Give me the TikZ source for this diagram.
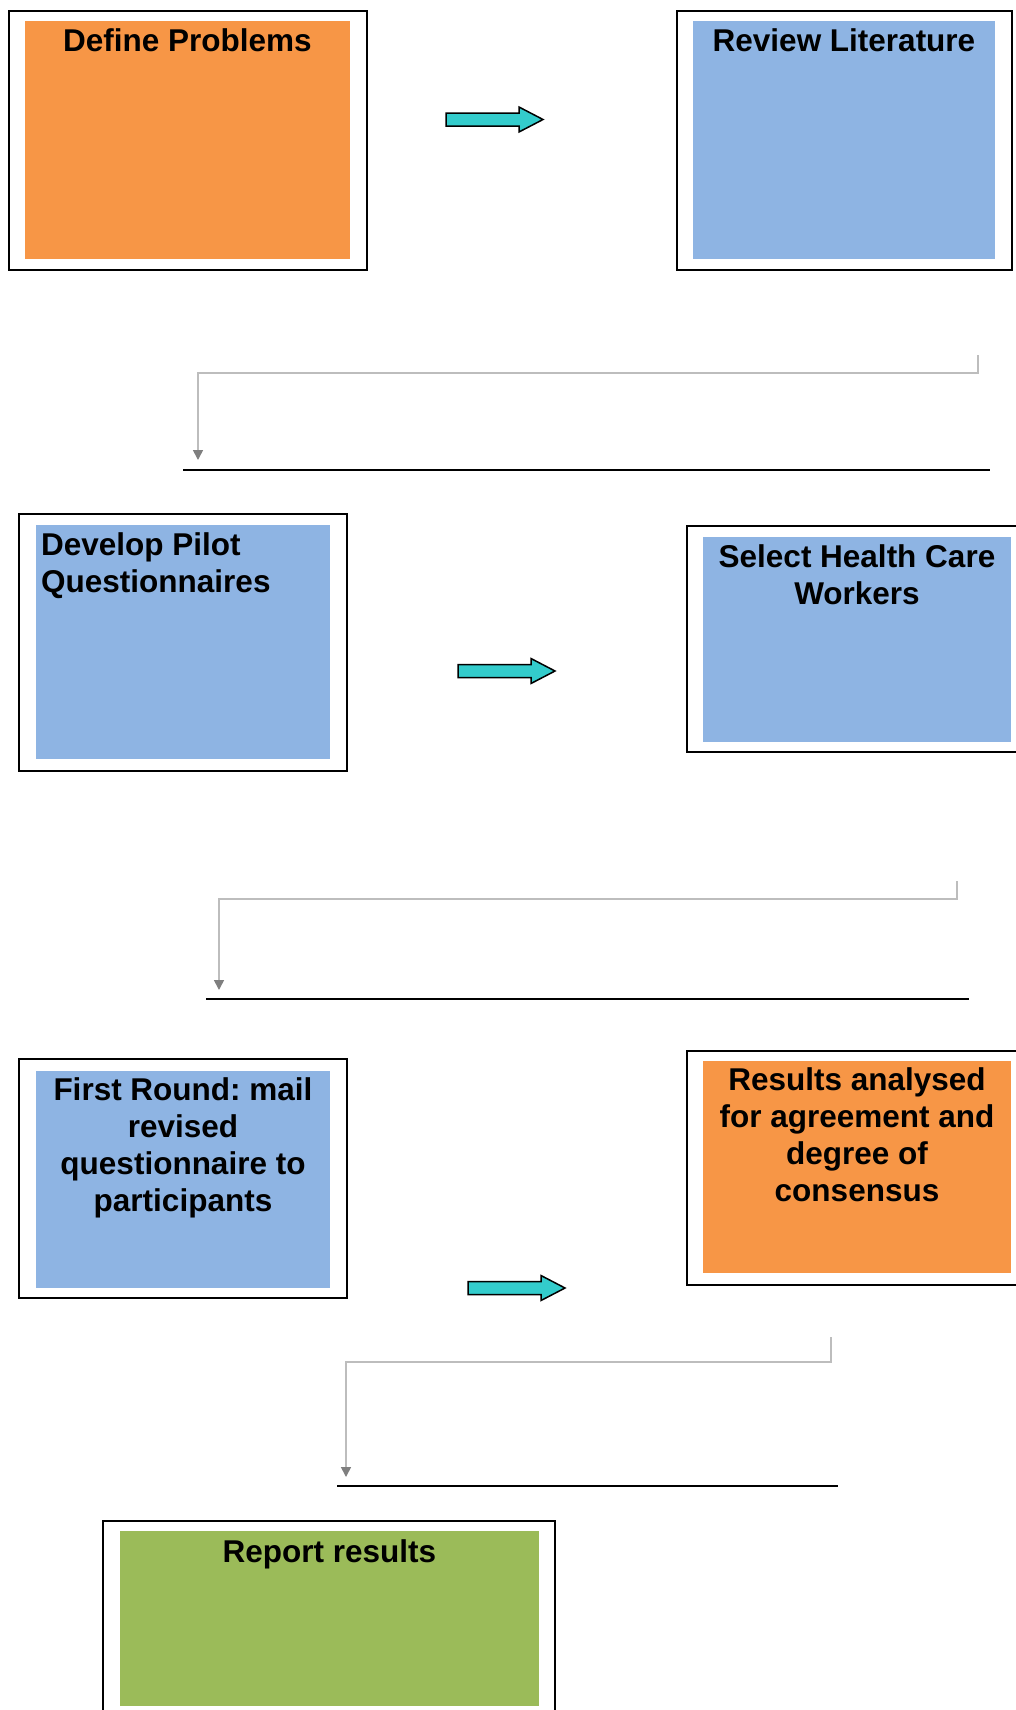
\documentclass[tikz,border=0pt]{standalone}
\usepackage{fontspec}
\setmainfont{Liberation Sans}
\usetikzlibrary{arrows.meta}
\definecolor{borange}{HTML}{F79646}
\definecolor{bblue}{HTML}{8EB4E3}
\definecolor{bgreen}{HTML}{9BBB59}
\definecolor{bteal}{HTML}{33CCCC}
\definecolor{cgray}{HTML}{BDBDBD}
\definecolor{tgray}{HTML}{7F7F7F}
\newcommand{\blockarrowat}[2]{%
  \draw[blockarr] (#1,#2-6.5) -- (#1+73,#2-6.5) -- (#1+73,#2-12.5) -- (#1+97,#2)
    -- (#1+73,#2+12.5) -- (#1+73,#2+6.5) -- (#1,#2+6.5) -- cycle;}
\frenchspacing
\begin{document}
\begin{tikzpicture}[x=1pt,y=-1pt,
  outerbox/.style={draw=black,line width=2pt,fill=white,inner sep=0pt},
  innerbox/.style={draw=none,inner sep=0pt},
  lbl/.style={inner sep=0pt,font=\bfseries\fontsize{31.5}{37.3}\selectfont},
  blockarr/.style={draw=black,line width=1.5pt,fill=bteal,line join=miter},
  conn/.style={draw=cgray,line width=1.6pt,-{Triangle[width=10pt,length=10pt,color=tgray]}},
  sepline/.style={draw=black,line width=2pt}]
\useasboundingbox (0,0) rectangle (1015,1710);

% Step 1
\node[outerbox,minimum width=358pt,minimum height=259pt] (o1) at (188,140.5) {};
\node[innerbox,fill=borange,minimum width=325pt,minimum height=238pt] (b1) at (187.5,140) {};
\node[lbl,anchor=base] (t1) at (187.5,52) {\begin{tabular}[t]{@{}c@{}}Define Problems\end{tabular}};

% Step 2
\node[outerbox,minimum width=335pt,minimum height=259pt] (o2) at (844.5,140.5) {};
\node[innerbox,fill=bblue,minimum width=302pt,minimum height=238pt] (b2) at (844,140) {};
\node[lbl,anchor=base] (t2) at (844,52) {\begin{tabular}[t]{@{}c@{}}Review Literature\end{tabular}};

\blockarrowat{446}{119.5}

% connector 1
\coordinate (c1s) at (978,355);
\coordinate (c1e) at (198,460);
\draw[conn] (c1s) -- (978,373) -| (c1e);
\coordinate (s1a) at (183,470);
\coordinate (s1b) at (990,470);
\draw[sepline] (s1a) -- (s1b);

% Step 3
\node[outerbox,minimum width=328pt,minimum height=257pt] (o3) at (183,642.5) {};
\node[innerbox,fill=bblue,minimum width=294pt,minimum height=234pt] (b3) at (183,642) {};
\node[lbl,anchor=base west] (t3) at (41,555) {\begin{tabular}[t]{@{}l@{}}Develop Pilot\\Questionnaires\end{tabular}};

% Step 4
\node[outerbox,minimum width=343pt,minimum height=226pt] (o4) at (858.5,639) {};
\node[innerbox,fill=bblue,minimum width=308pt,minimum height=205pt] (b4) at (857,639.5) {};
\node[lbl,anchor=base] (t4) at (857,567) {\begin{tabular}[t]{@{}c@{}}Select Health Care\\Workers\end{tabular}};

\blockarrowat{458}{671}

% connector 2
\coordinate (c2s) at (957,881);
\coordinate (c2e) at (219,990);
\draw[conn] (c2s) -- (957,899) -| (c2e);
\coordinate (s2a) at (206,999);
\coordinate (s2b) at (969,999);
\draw[sepline] (s2a) -- (s2b);

% Step 5
\node[outerbox,minimum width=328pt,minimum height=239pt] (o5) at (183,1178.5) {};
\node[innerbox,fill=bblue,minimum width=294pt,minimum height=217pt] (b5) at (183,1179.5) {};
\node[lbl,anchor=base] (t5) at (183,1100) {\begin{tabular}[t]{@{}c@{}}First Round: mail\\revised\\questionnaire to\\participants\end{tabular}};

% Step 6
\node[outerbox,minimum width=343pt,minimum height=234pt] (o6) at (858.5,1168) {};
\node[innerbox,fill=borange,minimum width=308pt,minimum height=212pt] (b6) at (857,1167) {};
\node[lbl,anchor=base] (t6) at (857,1090) {\begin{tabular}[t]{@{}c@{}}Results analysed\\for agreement and\\degree of\\consensus\end{tabular}};

\blockarrowat{468}{1288}

% connector 3
\coordinate (c3s) at (831,1337);
\coordinate (c3e) at (346,1477);
\draw[conn] (c3s) -- (831,1362) -| (c3e);
\coordinate (s3a) at (337,1486);
\coordinate (s3b) at (838,1486);
\draw[sepline] (s3a) -- (s3b);

% Step 7
\node[outerbox,minimum width=452pt,minimum height=209pt] (o7) at (329,1625.5) {};
\node[innerbox,fill=bgreen,minimum width=419pt,minimum height=175pt] (b7) at (329.5,1618.5) {};
\node[lbl,anchor=base] (t7) at (329.5,1562) {\begin{tabular}[t]{@{}c@{}}Report results\end{tabular}};
\end{tikzpicture}
\end{document}
